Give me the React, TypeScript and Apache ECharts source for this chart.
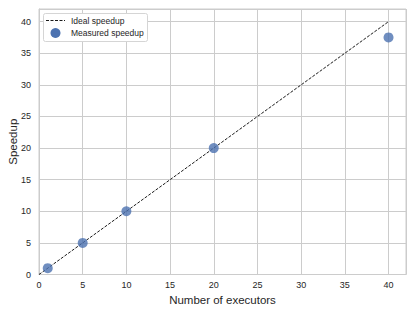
import React, { useEffect, useRef } from "react";
import * as echarts from "echarts";

const idealX = [0, 40];
const idealY = [0, 40];
const executors = [1, 5, 10, 20, 40];
const measuredSpeedup = [1, 5, 10, 20, 37.5];
const xTicks = [0, 5, 10, 15, 20, 25, 30, 35, 40];
const yTicks = [0, 5, 10, 15, 20, 25, 30, 35, 40];
const legendLabels = ["Ideal speedup", "Measured speedup"];

const FONT = "Liberation Sans, Arial, sans-serif";
const BLUE = "#4c72b0";
const GRID = "#cccccc";
const TEXT = "#262626";

export default function App() {
  const ref = useRef<HTMLDivElement>(null);
  useEffect(() => {
    if (!ref.current) return;
    const chart = echarts.init(ref.current, null, { renderer: "svg" });
    chart.setOption({
      animation: false,
      backgroundColor: "#ffffff",
      textStyle: { fontFamily: FONT },
      grid: {
        left: 39,
        right: 9,
        top: 9,
        bottom: 37.5,
        show: true,
        borderColor: GRID,
        borderWidth: 1,
        containLabel: false,
        outerBoundsMode: "none",
      },
      xAxis: {
        type: "value",
        min: 0,
        max: 42,
        interval: 5,
        name: "Number of executors",
        nameLocation: "middle",
        nameGap: 19,
        nameMoveOverlap: false,
        nameTextStyle: { fontSize: 11.5, color: TEXT, fontFamily: FONT },
        axisLine: { show: true, lineStyle: { color: GRID } },
        axisTick: { show: false },
        axisLabel: {
          fontSize: 9,
          color: TEXT,
          margin: 6,
          fontFamily: FONT,
          formatter: (v: number) => (xTicks.includes(v) ? String(v) : ""),
        },
        splitLine: { show: true, lineStyle: { color: GRID, width: 1 } },
      },
      yAxis: {
        type: "value",
        min: 0,
        max: 42,
        interval: 5,
        name: "Speedup",
        nameLocation: "middle",
        nameGap: 20,
        nameMoveOverlap: false,
        nameRotate: 90,
        nameTextStyle: { fontSize: 11.5, color: TEXT, fontFamily: FONT },
        axisLine: { show: true, lineStyle: { color: GRID } },
        axisTick: { show: false },
        axisLabel: {
          fontSize: 9,
          color: TEXT,
          margin: 8,
          fontFamily: FONT,
          formatter: (v: number) => (yTicks.includes(v) ? String(v) : ""),
        },
        splitLine: { show: true, lineStyle: { color: GRID, width: 1 } },
      },
      series: [
        {
          name: legendLabels[0],
          type: "line",
          data: idealX.map((x, i) => [x, idealY[i]]),
          symbol: "none",
          lineStyle: { color: "#000000", width: 0.9, type: [3, 1.5] },
          z: 2,
        },
        {
          name: legendLabels[1],
          type: "scatter",
          data: executors.map((x, i) => [x, measuredSpeedup[i]]),
          symbol: "circle",
          symbolSize: 10,
          itemStyle: { color: BLUE },
          z: 3,
        },
      ],
      graphic: [
        {
          type: "rect",
          shape: { x: 43.5, y: 13.5, width: 104, height: 28, r: 2 },
          style: { fill: "#ffffff", stroke: "#d5d5d5", lineWidth: 1 },
          z: 10,
        },
        {
          type: "line",
          shape: { x1: 46, y1: 20.5, x2: 65, y2: 20.5 },
          style: { stroke: "#000000", lineWidth: 0.9, lineDash: [3, 1.5] },
          z: 11,
        },
        {
          type: "circle",
          shape: { cx: 55.5, cy: 33, r: 5 },
          style: { fill: BLUE },
          z: 11,
        },
        {
          type: "text",
          x: 71,
          y: 20.5,
          style: {
            text: legendLabels[0],
            fontSize: 8.5,
            fontFamily: FONT,
            fill: TEXT,
            verticalAlign: "middle",
            align: "left",
          },
          z: 11,
        },
        {
          type: "text",
          x: 71,
          y: 33,
          style: {
            text: legendLabels[1],
            fontSize: 8.5,
            fontFamily: FONT,
            fill: TEXT,
            verticalAlign: "middle",
            align: "left",
          },
          z: 11,
        },
      ],
    });
    return () => chart.dispose();
  }, []);
  return (
    <div
      ref={ref}
      style={{ width: 415, height: 312, position: "absolute", left: 0, top: 0 }}
    />
  );
}
